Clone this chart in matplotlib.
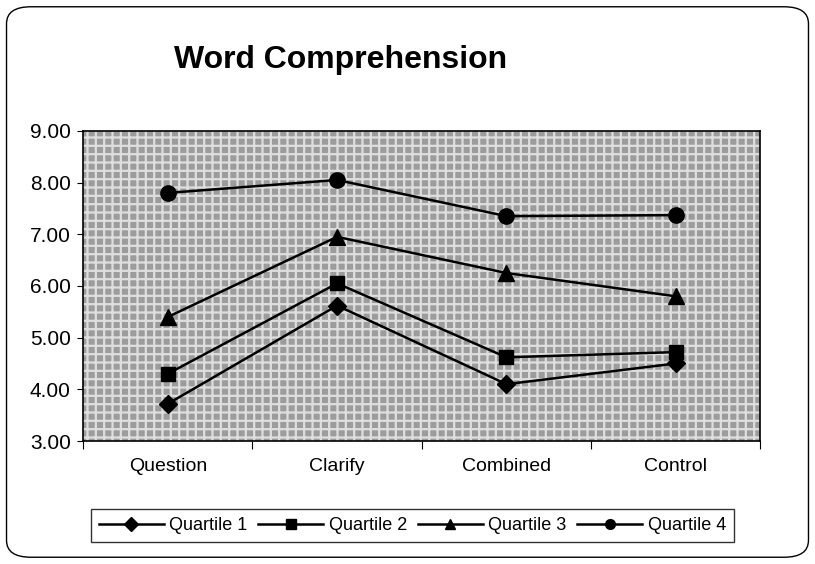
import matplotlib
matplotlib.use('Agg')
import matplotlib.pyplot as plt
from matplotlib.patches import FancyBboxPatch

plt.rcParams['font.family'] = ['Liberation Sans', 'DejaVu Sans']
plt.rcParams['hatch.linewidth'] = 1.6

# data
categories = ["Question", "Clarify", "Combined", "Control"]
quartile_1 = [3.72, 5.62, 4.10, 4.50]
quartile_2 = [4.30, 6.05, 4.62, 4.72]
quartile_3 = [5.40, 6.95, 6.25, 5.80]
quartile_4 = [7.80, 8.05, 7.35, 7.37]
series = [("Quartile 1", quartile_1, "D", 9.5),
          ("Quartile 2", quartile_2, "s", 10.5),
          ("Quartile 3", quartile_3, "^", 11),
          ("Quartile 4", quartile_4, "o", 11)]
yticks = [3, 4, 5, 6, 7, 8, 9]

fig = plt.figure(figsize=(8.15, 5.64), dpi=100)

# rounded frame around whole chart
frame = FancyBboxPatch((0.008, 0.012), 0.984, 0.976, boxstyle="round,pad=0,rounding_size=0.03",
                       transform=fig.transFigure, fill=False, edgecolor="black", linewidth=1.0)
fig.patches.append(frame)

ax = fig.add_axes([0.102, 0.218, 0.831, 0.550])
ax.set_facecolor("#9c9c9c")
# mottled background, roughly
ax.fill_between([-0.5, 3.5], 3, 9, facecolor="#9c9c9c", hatch="++", edgecolor="#dedede",
                linewidth=0, zorder=0)

x = list(range(len(categories)))
for name, vals, mk, ms in series:
    ax.plot(x, vals, color="black", linewidth=1.8, marker=mk, markersize=ms,
            markerfacecolor="black", markeredgecolor="black", label=name, zorder=3)

ax.set_xlim(-0.5, 3.5)
ax.set_ylim(3, 9)
ax.set_yticks(yticks)
ax.set_yticklabels([f"{v:.2f}" for v in yticks], fontsize=15)
ax.set_xticks([-0.5, 0.5, 1.5, 2.5, 3.5])
ax.set_xticklabels([])
ax.set_xticks(x, minor=True)
ax.set_xticklabels(categories, minor=True, fontsize=14)
ax.tick_params(axis="x", which="minor", length=0, pad=12)
ax.tick_params(axis="x", which="major", length=6, direction="out")
ax.tick_params(axis="y", length=4, direction="out", pad=5)
for s in ax.spines.values():
    s.set_linewidth(1.2)

fig.text(0.418, 0.893, "Word Comprehension", fontsize=23, fontweight="bold",
         ha="center", va="center")

leg = fig.legend(loc="center", bbox_to_anchor=(0.506, 0.068), ncol=4, fontsize=13,
                 frameon=True, fancybox=False, edgecolor="black", handlelength=3.6,
                 handletextpad=0.3, columnspacing=0.6, borderpad=0.45)
leg.get_frame().set_linewidth(1.0)
for h in leg.legend_handles:
    h.set_markersize(7)

fig.savefig("out.png", dpi=100)
